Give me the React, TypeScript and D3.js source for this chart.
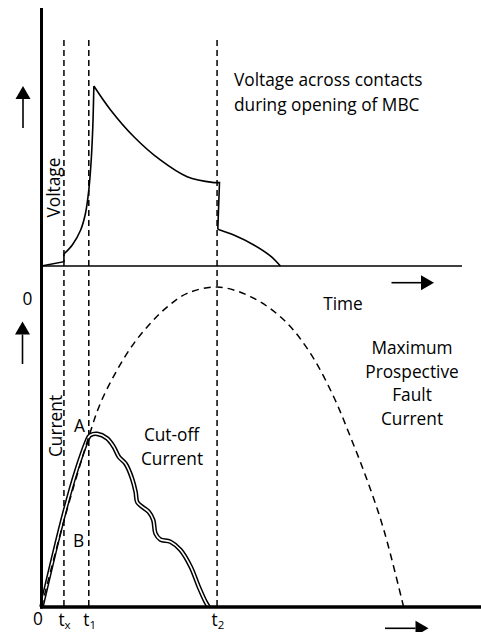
import React, { useEffect, useRef } from 'react';
import * as d3 from 'd3';

type Pt = [number, number];

// time instants (arbitrary time units, 0..100 across the plot)
const timeMarks = [
  { name: 't', sub: 'x', t: 5.1 },
  { name: 't', sub: '1', t: 10.75 },
  { name: 't', sub: '2', t: 39.9 },
];

// voltage across contacts (relative, peak = 1)
const voltageStart: Pt[] = [[0, 0], [5.1, 0.024], [5.1, 0.067]];
const voltageRise: Pt[] = [[5.1, 0.067], [7.0, 0.117], [8.9, 0.2], [10.0, 0.293], [10.75, 0.422], [11.3, 0.589], [11.66, 0.774], [11.9, 1.0]];
const voltageDecay: Pt[] = [[11.9, 1.0], [15.7, 0.867], [21.0, 0.718], [27.0, 0.589], [33.1, 0.496], [39.2, 0.463]];
const voltageStep: Pt[] = [[39.2, 0.463], [40.45, 0.463], [40.07, 0.204]];
const voltageTail: Pt[] = [[40.07, 0.204], [43.7, 0.172], [48.25, 0.117], [52.0, 0.056], [54.3, 0]];

// maximum prospective fault current (relative, peak = 1)
const prospectiveCurrent: Pt[] = [
  [0, 0], [5.1, 0.27], [10.75, 0.532], [13.4, 0.637], [17.2, 0.741], [21.0, 0.824],
  [24.8, 0.887], [28.6, 0.938], [33.1, 0.98], [39.9, 1.0], [47.5, 0.97], [55.1, 0.897],
  [61.1, 0.793], [66.4, 0.657], [70.2, 0.532], [74.0, 0.397], [77.8, 0.241], [82.3, 0],
];

// cut-off current
const cutoffCurrent: Pt[] = [
  [0, 0], [5.1, 0.29], [8.0, 0.43], [10.75, 0.532], [11.1, 0.537], [12.66, 0.541],
  [14.9, 0.527], [16.4, 0.501], [17.6, 0.469], [19.1, 0.448], [20.6, 0.401], [21.4, 0.359],
  [21.75, 0.328], [22.9, 0.313], [24.4, 0.297], [25.4, 0.272], [25.9, 0.23], [27.0, 0.211],
  [29.3, 0.204], [31.6, 0.178], [33.9, 0.126], [35.75, 0.063], [37.3, 0.016], [38.0, 0],
];

const FONT = '"Open Sans", sans-serif';
const FS = '17.3px';

export default function App() {
  const svgRef = useRef<SVGSVGElement>(null);

  useEffect(() => {
    if (!svgRef.current) return;
    const svg = d3.select(svgRef.current);
    svg.selectAll('*').remove();

    const x = d3.scaleLinear().domain([0, 100]).range([41.5, 481.5]);
    const yV = d3.scaleLinear().domain([0, 1]).range([266, 86]);
    const yI = d3.scaleLinear().domain([0, 1]).range([607, 287]);

    const lineV = (curve: d3.CurveFactory) =>
      d3.line<Pt>().x(d => x(d[0])).y(d => yV(d[1])).curve(curve);
    const lineI = d3.line<Pt>().x(d => x(d[0])).y(d => yI(d[1])).curve(d3.curveCatmullRom.alpha(0.5));

    // time marks (dashed verticals)
    timeMarks.forEach(m => {
      svg.append('line')
        .attr('x1', x(m.t)).attr('x2', x(m.t))
        .attr('y1', 40).attr('y2', 607)
        .attr('stroke', '#000').attr('stroke-width', 1.5)
        .attr('stroke-dasharray', '6,4');
      const t = svg.append('text')
        .attr('x', x(m.t) - 5.5).attr('y', 625.5)
        .style('font-family', FONT).style('font-size', FS)
        .text(m.name);
      t.append('tspan').attr('dy', 3).style('font-size', '11.5px').text(m.sub);
    });

    // voltage curve
    const vPath = [
      lineV(d3.curveLinear)(voltageStart),
      lineV(d3.curveCatmullRom.alpha(0.5))(voltageRise),
      lineV(d3.curveCatmullRom.alpha(0.5))(voltageDecay),
      lineV(d3.curveLinear)(voltageStep),
      lineV(d3.curveCatmullRom.alpha(0.5))(voltageTail),
    ].join('');
    svg.append('path').attr('d', vPath)
      .attr('fill', 'none').attr('stroke', '#000').attr('stroke-width', 1.6);

    // cut-off current (double line)
    svg.append('path').datum(cutoffCurrent).attr('d', lineI)
      .attr('fill', 'none').attr('stroke', '#000').attr('stroke-width', 4.6);
    svg.append('path').datum(cutoffCurrent).attr('d', lineI)
      .attr('fill', 'none').attr('stroke', '#fff').attr('stroke-width', 1.6);

    // prospective fault current
    svg.append('path').datum(prospectiveCurrent).attr('d', lineI)
      .attr('fill', 'none').attr('stroke', '#000').attr('stroke-width', 1.5)
      .attr('stroke-dasharray', '7,5');

    // axes
    svg.append('line').attr('x1', 40).attr('x2', 462).attr('y1', 266).attr('y2', 266)
      .attr('stroke', '#000').attr('stroke-width', 1.5);
    svg.append('line').attr('x1', 40).attr('x2', 481).attr('y1', 607).attr('y2', 607)
      .attr('stroke', '#000').attr('stroke-width', 3.5);
    svg.append('line').attr('x1', 41.5).attr('x2', 41.5).attr('y1', 8).attr('y2', 608.5)
      .attr('stroke', '#000').attr('stroke-width', 3);

    // arrows
    const arrow = (x1: number, y1: number, x2: number, y2: number) => {
      const ang = Math.atan2(y2 - y1, x2 - x1);
      const len = 13, half = 7.5;
      const bx = x2 - len * Math.cos(ang), by = y2 - len * Math.sin(ang);
      svg.append('line').attr('x1', x1).attr('y1', y1).attr('x2', bx).attr('y2', by)
        .attr('stroke', '#000').attr('stroke-width', 1.6);
      const px = -Math.sin(ang) * half, py = Math.cos(ang) * half;
      svg.append('path')
        .attr('d', `M${x2},${y2}L${bx + px},${by + py}L${bx - px},${by - py}Z`)
        .attr('fill', '#000');
    };
    arrow(23, 128, 23, 86);
    arrow(22.5, 364, 22.5, 321.5);
    arrow(391.5, 282.7, 434, 282.7);
    arrow(385, 628.3, 428.5, 628.3);

    // labels
    const label = (tx: number, ty: number, s: string, anchor = 'middle', rot = 0) => {
      svg.append('text')
        .attr('transform', `translate(${tx},${ty}) rotate(${rot})`)
        .attr('text-anchor', anchor)
        .style('font-family', FONT).style('font-size', FS)
        .text(s);
    };
    label(234, 86, 'Voltage across contacts', 'start');
    label(234, 110.5, 'during opening of MBC', 'start');
    label(343, 310, 'Time');
    ['Maximum', 'Prospective', 'Fault', 'Current'].forEach((s, i) => label(412, 354 + i * 23.5, s));
    label(171.5, 441, 'Cut-off');
    label(172, 465, 'Current');
    label(79.5, 432, 'A');
    label(78.5, 547, 'B');
    label(27.5, 305, '0');
    label(38, 625, '0');
    label(60, 187.5, 'Voltage', 'middle', -90);
    label(61.5, 426, 'Current', 'middle', -90);
  }, []);

  return (
    <svg
      ref={svgRef}
      width={481}
      height={632}
      style={{ position: 'absolute', left: 0, top: 0, background: '#fff' }}
    />
  );
}
